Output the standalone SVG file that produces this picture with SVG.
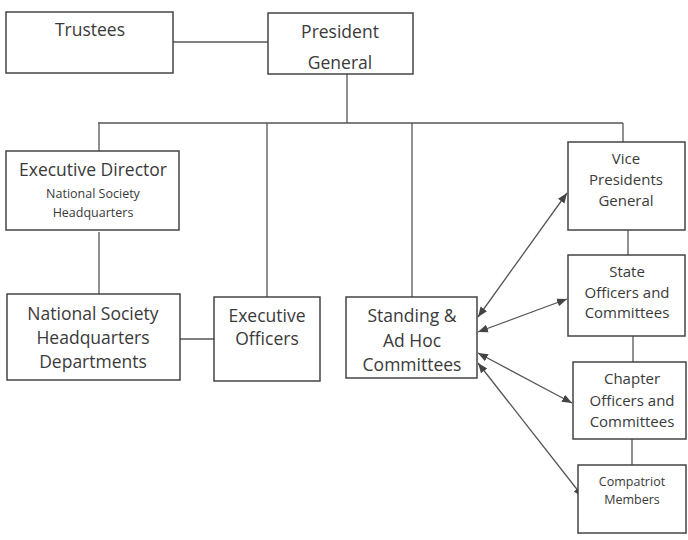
<svg xmlns="http://www.w3.org/2000/svg" width="688" height="540" viewBox="0 0 688 540">
<style>
.box{fill:#fff;stroke:#444;stroke-width:1.5}
.ln{stroke:#555;stroke-width:1.3;fill:none}
.ar{stroke:#555;stroke-width:1.3;fill:none;marker-start:url(#ah);marker-end:url(#ah)}
text{font-family:"Open Sans","Liberation Sans",sans-serif;fill:#3a3a3a;text-anchor:middle}
.l{font-size:17.5px}
.m{font-size:15px}
.s{font-size:12.5px}
</style>
<defs>
<marker id="ah" viewBox="0 0 10 10" refX="10" refY="5" markerWidth="10" markerHeight="10" markerUnits="userSpaceOnUse" orient="auto-start-reverse">
<path d="M0,1 L10,5 L0,9 z" fill="#444"/>
</marker>
</defs>
<rect width="688" height="540" fill="#fff"/>
<g id="connectors">
<line class="ln" x1="173" y1="42" x2="268" y2="42"/>
<line class="ln" x1="347" y1="74" x2="347" y2="123"/>
<line class="ln" x1="98" y1="123" x2="623" y2="123"/>
<line class="ln" x1="99" y1="123" x2="99" y2="151"/>
<line class="ln" x1="99" y1="232" x2="99" y2="294"/>
<line class="ln" x1="267" y1="123" x2="267" y2="297"/>
<line class="ln" x1="412" y1="123" x2="412" y2="297"/>
<line class="ln" x1="623" y1="123" x2="623" y2="142"/>
<line class="ln" x1="180" y1="339" x2="214" y2="339"/>
<line class="ln" x1="628" y1="230" x2="628" y2="255"/>
<line class="ln" x1="633" y1="336" x2="633" y2="362"/>
<line class="ln" x1="632" y1="439" x2="632" y2="465"/>
<line class="ar" x1="478" y1="317" x2="567" y2="193"/>
<line class="ar" x1="478" y1="332" x2="567" y2="299"/>
<line class="ar" x1="478" y1="353" x2="572" y2="403"/>
<line class="ar" x1="478" y1="363" x2="583" y2="497"/>
</g>
<g id="trustees">
<rect class="box" x="6" y="12" width="167" height="61"/>
<text class="l" x="90" y="36">Trustees</text>
</g>
<g id="president-general">
<rect class="box" x="268" y="13" width="145" height="61"/>
<text class="l" x="340" y="38">President</text>
<text class="l" x="340" y="69">General</text>
</g>
<g id="executive-director">
<rect class="box" x="6" y="151" width="173" height="79"/>
<text class="l" x="93" y="176">Executive Director</text>
<text class="s" x="93" y="198">National Society</text>
<text class="s" x="93" y="217">Headquarters</text>
</g>
<g id="nshq-departments">
<rect class="box" x="7" y="294" width="173" height="86"/>
<text class="l" x="93" y="320">National Society</text>
<text class="l" x="93" y="344">Headquarters</text>
<text class="l" x="93" y="368">Departments</text>
</g>
<g id="executive-officers">
<rect class="box" x="214" y="297" width="106" height="84"/>
<text class="l" x="267" y="322">Executive</text>
<text class="l" x="267" y="345">Officers</text>
</g>
<g id="standing-committees">
<rect class="box" x="346" y="297" width="131" height="81"/>
<text class="l" x="412" y="322">Standing &amp;</text>
<text class="l" x="412" y="347">Ad Hoc</text>
<text class="l" x="412" y="371">Committees</text>
</g>
<g id="vice-presidents">
<rect class="box" x="568" y="142" width="117" height="88"/>
<text class="m" x="626" y="164">Vice</text>
<text class="m" x="626" y="185">Presidents</text>
<text class="m" x="626" y="206">General</text>
</g>
<g id="state-officers">
<rect class="box" x="568" y="255" width="117" height="81"/>
<text class="m" x="627" y="277">State</text>
<text class="m" x="627" y="298">Officers and</text>
<text class="m" x="627" y="318">Committees</text>
</g>
<g id="chapter-officers">
<rect class="box" x="573" y="362" width="113" height="77"/>
<text class="m" x="632" y="384">Chapter</text>
<text class="m" x="632" y="406">Officers and</text>
<text class="m" x="632" y="427">Committees</text>
</g>
<g id="compatriot-members">
<rect class="box" x="578" y="465" width="108" height="68"/>
<text class="s" x="632" y="486">Compatriot</text>
<text class="s" x="632" y="504">Members</text>
</g>
</svg>
